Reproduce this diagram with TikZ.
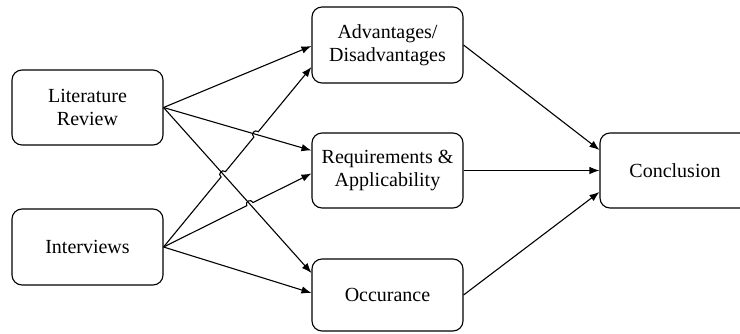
\documentclass[tikz,border=0pt]{standalone}
\usepackage{fontspec}
\setmainfont{Liberation Serif}
\newfontfamily\diafont{Liberation Serif}
\usetikzlibrary{arrows.meta,calc,intersections}
\begin{document}
\begin{tikzpicture}[x=1pt,y=-1pt,
  box/.style={draw, line width=1.1pt, rounded corners=10pt, align=center,
    font=\diafont\fontsize{20}{23}\selectfont, inner sep=0pt,
    minimum width=151pt},
  conn/.style={line width=1.1pt, -{Latex[length=10pt,width=7.5pt]}},
  hop/.style={bend left=90, looseness=1.7}]
\useasboundingbox (0,0) rectangle (740,333);
% boxes
\node[box, minimum height=75pt] (lr)  at (87.5,107.5) {Literature\\Review};
\node[box, minimum height=76pt] (int) at (87.5,247) {Interviews};
\node[box, minimum height=76pt] (adv) at (387.5,45) {Advantages/\\Disadvantages};
\node[box, minimum height=75pt] (req) at (387.5,170.5) {Requirements \&\\Applicability};
\node[box, minimum height=72pt] (occ) at (387.5,295) {Occurance};
\node[box, minimum height=75pt, minimum width=150pt] (conc) at (675,170.5) {Conclusion};
% target points
\coordinate (a1) at ($(adv.west)+(0,1)$);
\coordinate (a2) at ($(adv.west)+(0,22)$);
\coordinate (r1) at ($(req.west)+(0,-20)$);
\coordinate (r2) at ($(req.west)+(0,3)$);
\coordinate (o1) at ($(occ.west)+(0,-22)$);
\coordinate (o2) at ($(occ.west)+(0,-2)$);
\coordinate (c1) at ($(conc.west)+(0,-20.5)$);
\coordinate (c3) at ($(conc.west)+(0,21.5)$);
% literature review connectors
\draw[conn] (lr.east) -- (a1);
\draw[conn, name path=L2] (lr.east) -- (r1);
\draw[conn, name path=L3] (lr.east) -- (o1);
% interview connectors with line jumps
\path[name path=I1] (int.east) -- (a2);
\path[name path=I2] (int.east) -- (r2);
\path[name intersections={of=I1 and L3, by=p1}];
\path[name intersections={of=I1 and L2, by=p2}];
\path[name intersections={of=I2 and L3, by=p3}];
\draw[conn] (int.east) -- ($(p1)!3.5pt!(int.east)$) to[hop] ($(p1)!3.5pt!(a2)$)
  -- ($(p2)!3.5pt!(int.east)$) to[hop] ($(p2)!3.5pt!(a2)$) -- (a2);
\draw[conn] (int.east) -- ($(p3)!3.5pt!(int.east)$) to[hop] ($(p3)!3.5pt!(r2)$) -- (r2);
\draw[conn] (int.east) -- (o2);
% to conclusion
\draw[conn] (adv.east) -- (c1);
\draw[conn] (req.east) -- (conc.west);
\draw[conn] (occ.east) -- (c3);
\end{tikzpicture}
\end{document}
